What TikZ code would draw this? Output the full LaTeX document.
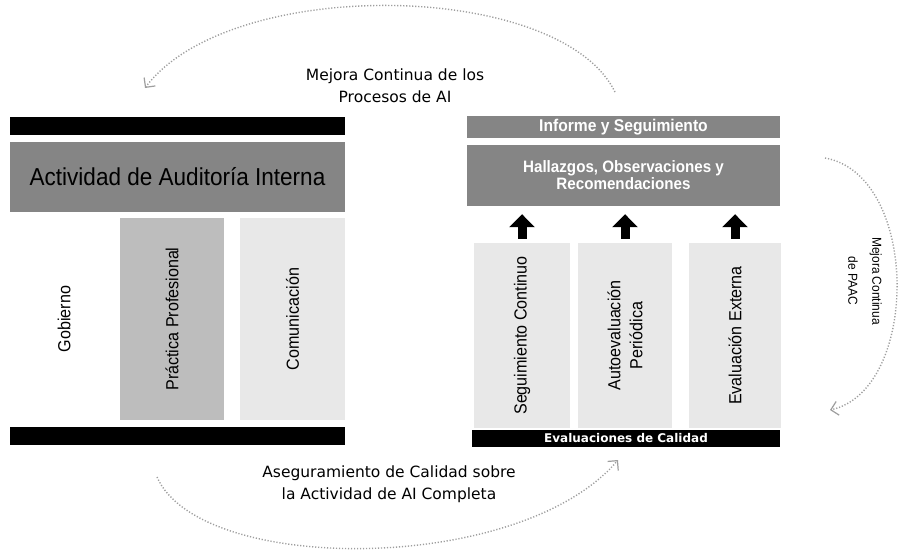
\documentclass[tikz,border=0pt]{standalone}
\usepackage{fontspec}
\setmainfont{Liberation Sans}
\newfontfamily\condfont[FakeStretch=0.92]{Liberation Sans}
\newfontfamily\capfont{DejaVu Sans}
\usetikzlibrary{arrows.meta}

\definecolor{darkpanel}{gray}{0.52}
\definecolor{midpanel}{gray}{0.74}
\definecolor{lightpanel}{gray}{0.91}
\definecolor{arcgray}{gray}{0.62}

\begin{document}
\begin{tikzpicture}[x=1pt,y=-1pt,
  blackbar/.style={fill=black, draw=none, inner sep=0pt},
  panelbox/.style={fill=darkpanel, draw=none, inner sep=0pt, align=center},
  column/.style={draw=none, inner sep=0pt},
  vlabel/.style={rotate=90, inner sep=0pt, align=center,
    font=\condfont\fontsize{17.5}{22}\selectfont},
  caption/.style={align=center, inner sep=0pt,
    font=\capfont\fontsize{15.5}{22}\selectfont},
  cyclearc/.style={draw=arcgray, line width=1.4pt,
    dash pattern=on 1.2pt off 1.8pt,
    -{Straight Barb[length=7pt,width=14pt,line width=1.2pt]}},
  uparrow/.style={line width=9pt, -{Triangle[length=13pt,width=25pt]},
    shorten <=4pt, shorten >=8pt}]

\useasboundingbox (0,0) rectangle (899,552);

% ---- left block: the internal audit activity
\node[blackbar, minimum width=335pt, minimum height=18pt] (ltopbar) at (177.5,126) {};
\node[panelbox, minimum width=335pt, minimum height=70pt,
      font=\condfont\fontsize{24.5}{26}\selectfont] (aai) at (177.5,177)
      {Actividad de Auditoría Interna};
\node[column, minimum width=108pt, minimum height=202pt] (gob) at (64,319) {};
\node[column, fill=midpanel, minimum width=104pt, minimum height=202pt] (prac) at (172,319) {};
\node[column, fill=lightpanel, minimum width=105pt, minimum height=202pt] (com) at (292.5,319) {};
\node[vlabel] (gobtext) at (gob.center) {Gobierno};
\node[vlabel] (practext) at (prac.center) {Práctica Profesional};
\node[vlabel] (comtext) at (com.center) {Comunicación};
\node[blackbar, minimum width=335pt, minimum height=18pt] (lbotbar) at (177.5,436) {};

% ---- right block: quality assessments
\node[panelbox, minimum width=313pt, minimum height=22pt, text=white,
      font=\condfont\bfseries\fontsize{17}{19}\selectfont] (inf) at (623.5,127)
      {Informe y Seguimiento};
\node[panelbox, minimum width=313pt, minimum height=61pt, text=white,
      font=\condfont\bfseries\fontsize{16.5}{17}\selectfont] (hall) at (623.5,175.5)
      {Hallazgos, Observaciones y\\Recomendaciones};
\node[column, fill=lightpanel, minimum width=96pt, minimum height=185pt] (seg) at (522,335.5) {};
\node[column, fill=lightpanel, minimum width=94pt, minimum height=185pt] (auto) at (625,335.5) {};
\node[column, fill=lightpanel, minimum width=92pt, minimum height=185pt] (ext) at (735,335.5) {};
\node[vlabel] (segtext) at (seg.center) {Seguimiento Continuo};
\node[vlabel] (autotext) at (auto.center) {Autoevaluación\\Periódica};
\node[vlabel] (exttext) at (ext.center) {Evaluación Externa};
\node[blackbar, minimum width=308pt, minimum height=17pt, text=white,
      font=\capfont\bfseries\fontsize{12}{13}\selectfont] (evalbar) at (626,438.5)
      {Evaluaciones de Calidad};

\draw[uparrow] (seg.north) -- (seg.north |- hall.south);
\draw[uparrow] (auto.north) -- (auto.north |- hall.south);
\draw[uparrow] (ext.north) -- (ext.north |- hall.south);

% ---- improvement cycle
\node[caption] (topcap) at (395,86) {Mejora Continua de los\\Procesos de AI};
\node[caption] (botcap) at (389,484)
      {Aseguramiento de Calidad sobre\\la Actividad de AI Completa};
\node[caption, rotate=-90, font=\condfont\fontsize{13}{24}\selectfont] (paac) at (865,281)
      {Mejora Continua\\de PAAC};

\coordinate (tstart) at (615,92);
\coordinate (tend) at (145,88);
\coordinate (bstart) at (157,477);
\coordinate (bend) at (618,460);
\coordinate (rstart) at (825,158);
\coordinate (rend) at (830,410);
\draw[cyclearc] (tstart) .. controls (560,-20) and (230,-25) .. (tend);
\draw[cyclearc] (bstart) .. controls (200,575) and (520,575) .. (bend);
\draw[cyclearc] (rstart) .. controls (920,175) and (920,390) .. (rend);
\end{tikzpicture}
\end{document}
